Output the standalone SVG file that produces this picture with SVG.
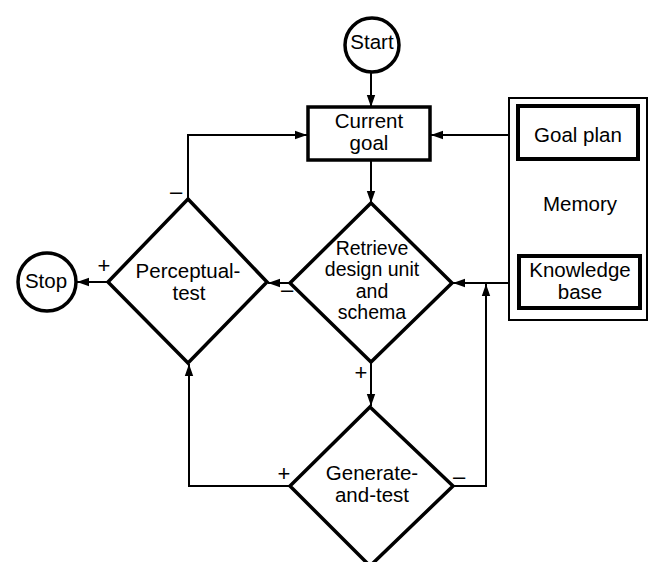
<svg xmlns="http://www.w3.org/2000/svg" width="653" height="562" viewBox="0 0 653 562">
<defs>
<style>
.shape{fill:#fff;stroke:#000;stroke-width:3.5;stroke-linejoin:miter}
.mem{fill:#fff;stroke:#000;stroke-width:2}
.inner{fill:#fff;stroke:#000;stroke-width:4}
.conn{fill:none;stroke:#000;stroke-width:2}
text{font-family:"Liberation Sans",Arial,sans-serif;font-size:20.5px;fill:#000;text-anchor:middle}
.tight{font-size:19.5px}
.sign{font-size:22px}
</style>
<marker id="arr" viewBox="0 0 12 10" refX="12" refY="5" markerWidth="12" markerHeight="10" markerUnits="userSpaceOnUse" orient="auto">
<path d="M0,0.8 L12,5 L0,9.2 Z" fill="#000"/>
</marker>
</defs>
<rect width="653" height="562" fill="#fff"/>

<g id="connectors">
<line class="conn" x1="371" y1="72" x2="371" y2="107" marker-end="url(#arr)"/>
<line class="conn" x1="517" y1="135" x2="431" y2="135" marker-end="url(#arr)"/>
<line class="conn" x1="371" y1="160" x2="371" y2="203" marker-end="url(#arr)"/>
<path class="conn" d="M188,199 V135 H307" marker-end="url(#arr)"/>
<line class="conn" x1="290" y1="283" x2="268" y2="283" marker-end="url(#arr)"/>
<line class="conn" x1="108" y1="282" x2="77" y2="282" marker-end="url(#arr)"/>
<line class="conn" x1="519" y1="283" x2="453" y2="283" marker-end="url(#arr)"/>
<line class="conn" x1="371" y1="362" x2="371" y2="406" marker-end="url(#arr)"/>
<path class="conn" d="M290,486 H189 V364" marker-end="url(#arr)"/>
<path class="conn" d="M453,486 H486 V284" marker-end="url(#arr)"/>
<text class="sign" x="176" y="199">–</text>
<text class="sign" x="104" y="273">+</text>
<text class="sign" x="287" y="297">–</text>
<text class="sign" x="361" y="380">+</text>
<text class="sign" x="284" y="481">+</text>
<text class="sign" x="459" y="484">–</text>
</g>

<g id="start">
<circle class="shape" cx="372" cy="45" r="27"/>
<text x="372" y="49">Start</text>
</g>

<g id="current-goal">
<rect class="shape" x="308" y="107" width="122" height="53"/>
<text x="369" y="128">Current</text>
<text x="369" y="150">goal</text>
</g>

<g id="memory">
<rect class="mem" x="509" y="98" width="138" height="222"/>
<text x="580" y="211">Memory</text>
</g>

<g id="goal-plan">
<rect class="inner" x="518" y="106" width="120" height="53"/>
<text x="578" y="142">Goal plan</text>
</g>

<g id="knowledge-base">
<rect class="inner" x="519" y="256" width="121" height="52"/>
<text x="580" y="277">Knowledge</text>
<text x="580" y="299">base</text>
</g>

<g id="retrieve">
<polygon class="shape" points="371,203 452,283 371,362 290,283"/>
<text class="tight" x="372" y="255">Retrieve</text>
<text class="tight" x="372" y="276">design unit</text>
<text class="tight" x="372" y="298">and</text>
<text class="tight" x="372" y="319">schema</text>
</g>

<g id="perceptual-test">
<polygon class="shape" points="188,199 267,282 188,363 108,282"/>
<text x="188" y="278">Perceptual-</text>
<text x="189" y="300">test</text>
</g>

<g id="stop">
<circle class="shape" cx="47" cy="282" r="29"/>
<text x="46" y="288">Stop</text>
</g>

<g id="generate-and-test">
<polygon class="shape" points="370,407 453,486 370,566 290,486"/>
<text x="372" y="480">Generate-</text>
<text x="372" y="502">and-test</text>
</g>
</svg>
